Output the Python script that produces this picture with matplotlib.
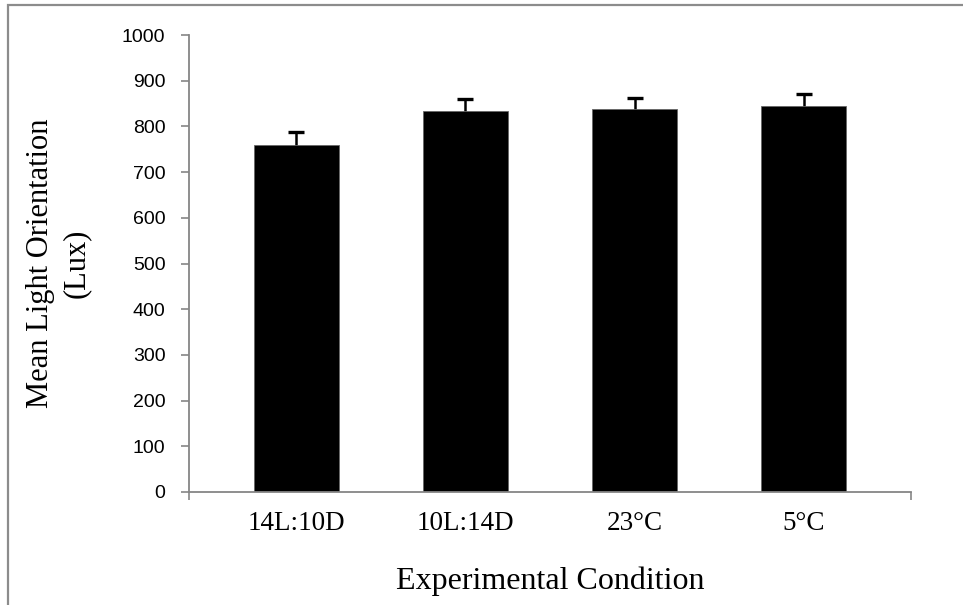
import numpy as np
import matplotlib
matplotlib.use("Agg")
import matplotlib.pyplot as plt
from matplotlib.patches import Rectangle

# data
conditions = ["14L:10D", "10L:14D", "23\u00b0C", "5\u00b0C"]
mean_lux = [760, 833, 838, 845]
err_lux = [28, 28, 24, 25]
yticks = [0, 100, 200, 300, 400, 500, 600, 700, 800, 900, 1000]

axis_grey = "#868686"

fig = plt.figure(figsize=(9.63, 6.05), dpi=100)
ax = fig.add_axes([189/963, 1-492/605, (911-189)/963, (492-35)/605])

x = np.arange(len(conditions))
# error bars sit behind the bars so only the upper half shows
ax.errorbar(x, mean_lux, yerr=err_lux, fmt="none",
            ecolor="black", elinewidth=1.8, capsize=5.5, capthick=2.4, zorder=1)
ax.bar(x, mean_lux, width=0.5, color="black", edgecolor="#666666", linewidth=0.6, zorder=2)

ax.set_xlim(-0.634, 3.634)
ax.set_ylim(0, 1000)
ax.set_yticks(yticks)
ax.set_yticklabels([str(t) for t in yticks], fontfamily="Liberation Sans", fontsize=14)
ax.set_xticks(x)
ax.set_xticklabels(conditions, fontfamily="Liberation Serif", fontsize=19.5)
ax.set_xticks([-0.634, 3.634], minor=True)

for s in ["top", "right"]:
    ax.spines[s].set_visible(False)
for s in ["left", "bottom"]:
    ax.spines[s].set_color(axis_grey)
    ax.spines[s].set_linewidth(1.3)

ax.tick_params(axis="y", direction="out", length=6, width=1.2, color=axis_grey, pad=11)
ax.tick_params(axis="x", which="major", length=0, pad=14)
ax.tick_params(axis="x", which="minor", direction="out", length=5.5, width=1.2, color=axis_grey)

ax.set_ylabel("Mean Light Orientation\n(Lux)", fontfamily="Liberation Serif", fontsize=22,
              linespacing=1.35, labelpad=22)
ax.set_xlabel("Experimental Condition", fontfamily="Liberation Serif", fontsize=23, labelpad=22)

# grey chart-area frame as in the spreadsheet export
fig.patches.append(Rectangle((8/963, -0.1), 1.2, 1 - 5/605 + 0.1, transform=fig.transFigure,
                             fill=False, edgecolor="#8c8c8c", linewidth=1.6))

fig.savefig("out.png", dpi=100)
